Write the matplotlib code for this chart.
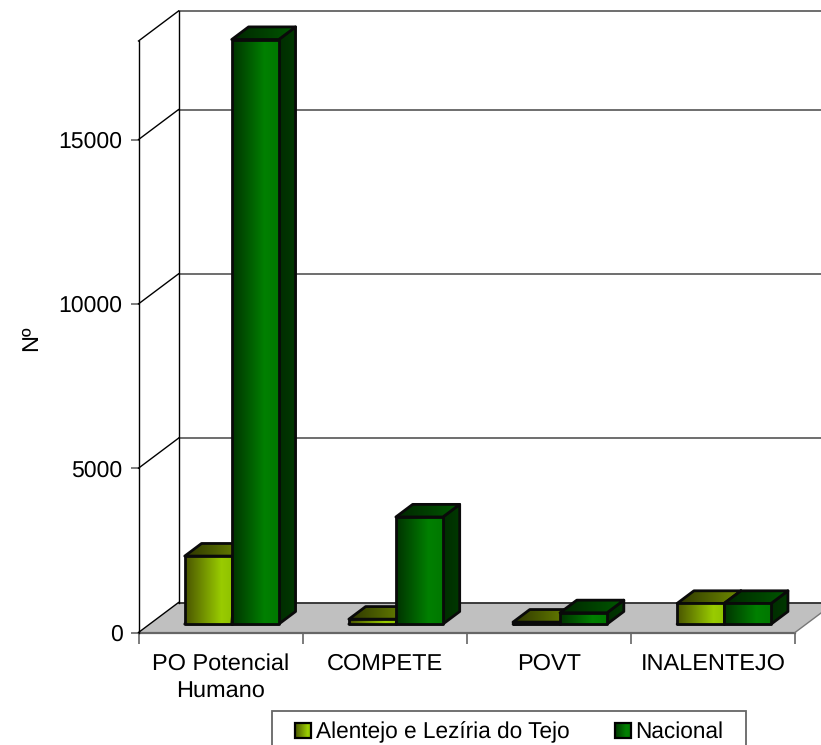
import numpy as np
import matplotlib
matplotlib.use("Agg")
import matplotlib.pyplot as plt
from matplotlib.patches import Polygon, Rectangle
from matplotlib.legend_handler import HandlerBase
from matplotlib.colors import to_rgb

plt.rcParams['font.family'] = ['Liberation Sans', 'DejaVu Sans']
plt.rcParams['text.hinting'] = 'no_hinting'

categories = ["PO Potencial\nHumano", "COMPETE", "POVT", "INALENTEJO"]
series_names = ["Alentejo e Lezíria do Tejo", "Nacional"]
alentejo = [2070, 150, 60, 630]
nacional = [17790, 3260, 345, 630]
y_ticks = [0, 5000, 10000, 15000]

W, H = 821, 745
X0, X1 = 138.5, 795.0      # pixel span of the front plane
Y0, Y1 = 632.5, 41.0       # pixel span of 0..ymax
YMAX = 18000
FS = 16.3
FS_X = 16.9
FS_Y = 16.6
LW = 2.0

fig = plt.figure(figsize=(W / 100, H / 100), dpi=100, facecolor="white")
ax = fig.add_axes([X0 / W, 1 - Y0 / H, (X1 - X0) / W, (Y0 - Y1) / H])
ax.set_xlim(0, 4)
ax.set_ylim(0, YMAX)
for s in ax.spines.values():
    s.set_visible(False)
ax.patch.set_visible(False)

PX = (X1 - X0) / 4            # pixels per category
PY = (Y0 - Y1) / YMAX         # pixels per unit of value
DX, DY = 40 / PX, 30 / PY     # depth shift of the chart box, in data units


def proj(x, y, d=0.0):
    """Oblique projection of (category x, value y, depth d 0..1) to data coordinates."""
    return (x + d * DX, y + d * DY)


# floor
ax.add_patch(Polygon([proj(0, 0), proj(0, 0, 1), proj(4, 0, 1), proj(4, 0)],
                     closed=True, facecolor="#C0C0C0", edgecolor="none",
                     zorder=1, clip_on=False))
ax.plot(*zip(proj(0, 0, 1), proj(4.2, 0, 1)), color="#222222", lw=1.2, zorder=2, clip_on=False)
ax.plot(*zip(proj(0, 0), proj(4, 0)), color="#666666", lw=1.6, zorder=2, clip_on=False)
ax.plot(*zip(proj(4, 0), proj(4, 0, 1)), color="#777777", lw=1.0, zorder=2, clip_on=False)

# walls and grid
for v in y_ticks + [YMAX]:
    ax.plot(*zip(proj(0, v), proj(0, v, 1)), color="black", lw=1.0, zorder=2, clip_on=False)
    if v:
        ax.plot(*zip(proj(0, v, 1), proj(4.2, v, 1)), color="#555555", lw=1.2, zorder=1.5, clip_on=False)
ax.plot(*zip(proj(0, 0), proj(0, YMAX)), color="black", lw=1.0, zorder=2, clip_on=False)
ax.plot(*zip(proj(0, 0, 1), proj(0, YMAX, 1)), color="black", lw=1.0, zorder=2, clip_on=False)


def ramp(stops):
    pos = [p for p, _ in stops]
    cols = np.array([to_rgb(c) for _, c in stops])
    t = np.linspace(0, 1, 64)
    return np.stack([np.interp(t, pos, cols[:, i]) for i in range(3)], axis=-1)[None, :, :]


def face(pts, stops, z):
    xs, ys = zip(*pts)
    im = ax.imshow(ramp(stops), extent=(min(xs), max(xs), min(ys), max(ys)),
                   aspect="auto", interpolation="bilinear", zorder=z)
    poly = Polygon(pts, closed=True, facecolor="none", edgecolor="#0a0a0a",
                   lw=LW, joinstyle="round", zorder=z + 0.01, clip_on=False)
    ax.add_patch(poly)
    im.set_clip_box(fig.bbox)
    im.set_clip_path(poly)


GRAD = {
    0: dict(front=[(0, "#4A5500"), (0.78, "#99CC00"), (1, "#90C200")],
            top=[(0, "#2E3600"), (1, "#6F8C00")],
            side=[(0, "#1A1F00"), (1, "#3D4800")]),
    1: dict(front=[(0, "#003300"), (0.7, "#008000"), (1, "#007800")],
            top=[(0, "#002600"), (1, "#005800")],
            side=[(0, "#000F00"), (1, "#003800")]),
}
BAR_W = 47 / PX
D0, D1 = 0.28, 0.70


def bar3d(x_left, value, grad, z):
    face([proj(x_left, 0, D0), proj(x_left + BAR_W, 0, D0),
          proj(x_left + BAR_W, 0, D1), proj(x_left + BAR_W, value, D1),
          proj(x_left + BAR_W, value, D0)], grad["side"], z)
    face([proj(x_left, value, D0), proj(x_left + BAR_W, value, D0),
          proj(x_left + BAR_W, value, D1), proj(x_left, value, D1)], grad["top"], z + 0.1)
    face([proj(x_left, 0, D0), proj(x_left + BAR_W, 0, D0),
          proj(x_left + BAR_W, value, D0), proj(x_left, value, D0)], grad["front"], z + 0.2)


for i, vals in enumerate(zip(alentejo, nacional)):
    for j, v in enumerate(vals):
        bar3d(i + 0.5 + (j - 1) * BAR_W, v, GRAD[j], 3 + j + i * 0.01)

ax.set_xlim(0, 4)
ax.set_ylim(0, YMAX)

# axes ticks and labels
ax.set_yticks(y_ticks)
ax.set_yticklabels([str(v) for v in y_ticks], fontsize=FS_Y, color="black")
ax.tick_params(axis="y", length=5.5, width=1.2, color="#666666", pad=6)
ax.set_xticks(range(5))
ax.set_xticklabels([""] * 5)
ax.tick_params(axis="x", which="major", length=8, width=1.2, color="#666666")
ax.set_xticks(np.arange(len(categories)) + 0.5, minor=True)
ax.set_xticklabels(categories, minor=True, fontsize=FS_X, color="black", linespacing=1.4)
ax.tick_params(axis="x", which="minor", length=0, pad=14.6)
ax.set_ylabel("Nº", fontsize=FS_X, color="black")
ax.yaxis.set_label_coords((42 - X0) / (X1 - X0), (Y0 - 338) / (Y0 - Y1))


class GradHandle(HandlerBase):
    def __init__(self, stops):
        super().__init__()
        self.stops = stops

    def create_artists(self, legend, orig, xd, yd, w, h, fontsize, trans):
        hh = 15.0 * 0.72
        y = -yd + (h - hh) / 2
        rgb = ramp(self.stops)[0]
        arts = []
        n = len(rgb)
        for k, c in enumerate(rgb):
            arts.append(Rectangle((-xd + w * k / n, y), w / n * 1.2, hh, facecolor=c,
                                  edgecolor="none", transform=trans))
        arts.append(Rectangle((-xd, y), w, hh, facecolor="none", edgecolor="black",
                              lw=1.6, transform=trans))
        return arts


h0 = Rectangle((0, 0), 1, 1, label=series_names[0])
h1 = Rectangle((0, 0), 1, 1, label=series_names[1])
leg = ax.legend(handles=[h0, h1], ncols=2, fontsize=FS, frameon=False,
                loc="center left", bbox_to_anchor=(295 / W, 1 - 732 / H),
                bbox_transform=fig.transFigure, borderpad=0, borderaxespad=0,
                handlelength=0.72, handletextpad=0.2, columnspacing=2.0,
                handler_map={h0: GradHandle(GRAD[0]["front"]), h1: GradHandle(GRAD[1]["front"])})
for t in leg.get_texts():
    t.set_color("black")
fig.add_artist(Rectangle((271.5 / W, 1 - 760 / H), 474 / W, 49 / H, transform=fig.transFigure,
                         facecolor="none", edgecolor="#666666", lw=1.3))

fig.savefig("out.png", dpi=100, facecolor="white")
